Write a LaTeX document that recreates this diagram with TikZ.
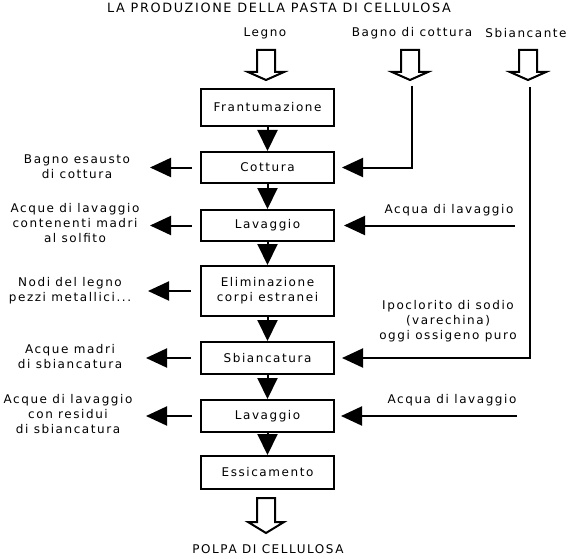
\documentclass[tikz,border=0pt]{standalone}
\usepackage{fontspec}
\setmainfont{DejaVu Sans}[LetterSpace=13]
\usetikzlibrary{arrows.meta,calc}
\begin{document}
\begin{tikzpicture}[x=1pt,y=-1pt,
  every node/.style={font=\fontsize{12}{15}\selectfont,inner sep=0pt,align=center},
  procbox/.style={draw,line width=2pt,minimum width=133pt},
  downarr/.style={line width=2pt,-{Triangle[width=20pt,length=21pt]}},
  sidearr/.style={line width=2pt,-{Triangle[width=19pt,length=21pt]}},
  hollow/.pic={\draw[line width=2pt,line join=miter,fill=white]
     (-9,0) -- (9,0) -- (9,22) -- (18,22) -- (0,30) -- (-18,22) -- (-9,22) -- cycle;},
  hollowbig/.pic={\draw[line width=2pt,line join=miter,fill=white]
     (-9,0) -- (9,0) -- (9,24) -- (18,24) -- (0,35) -- (-18,24) -- (-9,24) -- cycle;}
]
\useasboundingbox (0,0) rectangle (570,559);

% title and inputs
\node[font=\fontsize{12.8}{15}\selectfont] (title) at (279,8) {LA PRODUZIONE DELLA PASTA DI CELLULOSA};
\node (legno) at (265,33) {Legno};
\node (bagno) at (412,33) {Bagno di cottura};
\node (sbianc) at (526,33) {Sbiancante};

\pic at (266,50) {hollow};
\pic at (410,50) {hollow};
\pic at (528,50) {hollow};

% process boxes
\node[procbox,minimum height=37pt] (fr) at (267.5,107.5) {Frantumazione};
\node[procbox,minimum height=31pt] (co) at (267.5,167.5) {Cottura};
\node[procbox,minimum height=31pt] (la1) at (267.5,225.5) {Lavaggio};
\node[procbox,minimum height=50pt] (el) at (267.5,291) {Eliminazione\\corpi estranei};
\node[procbox,minimum height=32pt] (sb) at (267.5,358) {Sbiancatura};
\node[procbox,minimum height=32pt] (la2) at (267.5,416) {Lavaggio};
\node[procbox,minimum height=33pt] (es) at (267.5,472.5) {Essicamento};

\draw[downarr] (fr.south) -- (co.north);
\draw[downarr] (co.south) -- (la1.north);
\draw[downarr] (la1.south) -- (el.north);
\draw[downarr] (el.south) -- (sb.north);
\draw[downarr] (sb.south) -- (la2.north);
\draw[downarr] (la2.south) -- (es.north);

\pic at (266,498) {hollowbig};
\node (polpa) at (268,549) {POLPA DI CELLULOSA};

% left outputs
\node (o1) at (77,167) {Bagno esausto\\di cottura};
\node (o2) at (75,223) {Acque di lavaggio\\contenenti madri\\al solfito};
\node (o3) at (70,291) {Nodi del legno\\pezzi metallici...};
\node (o4) at (70,357) {Acque madri\\di sbiancatura};
\node (o5) at (68,414) {Acque di lavaggio\\con residui\\di sbiancatura};

\coordinate (e1) at (150,167.5);
\coordinate (e2) at (150,225.5);
\coordinate (e3) at (148,291);
\coordinate (e4) at (146,358);
\coordinate (e5) at (146,416);
\draw[sidearr] ([xshift=-8pt]co.west) -- (e1);
\draw[sidearr] ([xshift=-8pt]la1.west) -- (e2);
\draw[sidearr] ([xshift=-9pt]el.west) -- (e3);
\draw[sidearr] ([xshift=-9pt]sb.west) -- (e4);
\draw[sidearr] ([xshift=-8pt]la2.west) -- (e5);

% right inputs
\node (a1) at (449,210) {Acqua di lavaggio};
\node (ipo) at (448,321) {Ipoclorito di sodio\\(varechina)\\oggi ossigeno puro};
\node (a2) at (452,400) {Acqua di lavaggio};

\coordinate (bc) at (412,86);
\coordinate (sv) at (530,87);
\coordinate (w1) at (515,225.5);
\coordinate (w2) at (517,416);
\draw[sidearr,line join=miter] (bc) |- ([xshift=7pt]co.east);
\draw[sidearr,line join=miter] (sv) |- ([xshift=7pt]sb.east);
\draw[sidearr] (w1) -- ([xshift=9pt]la1.east);
\draw[sidearr] (w2) -- ([xshift=6pt]la2.east);
\end{tikzpicture}
\end{document}
